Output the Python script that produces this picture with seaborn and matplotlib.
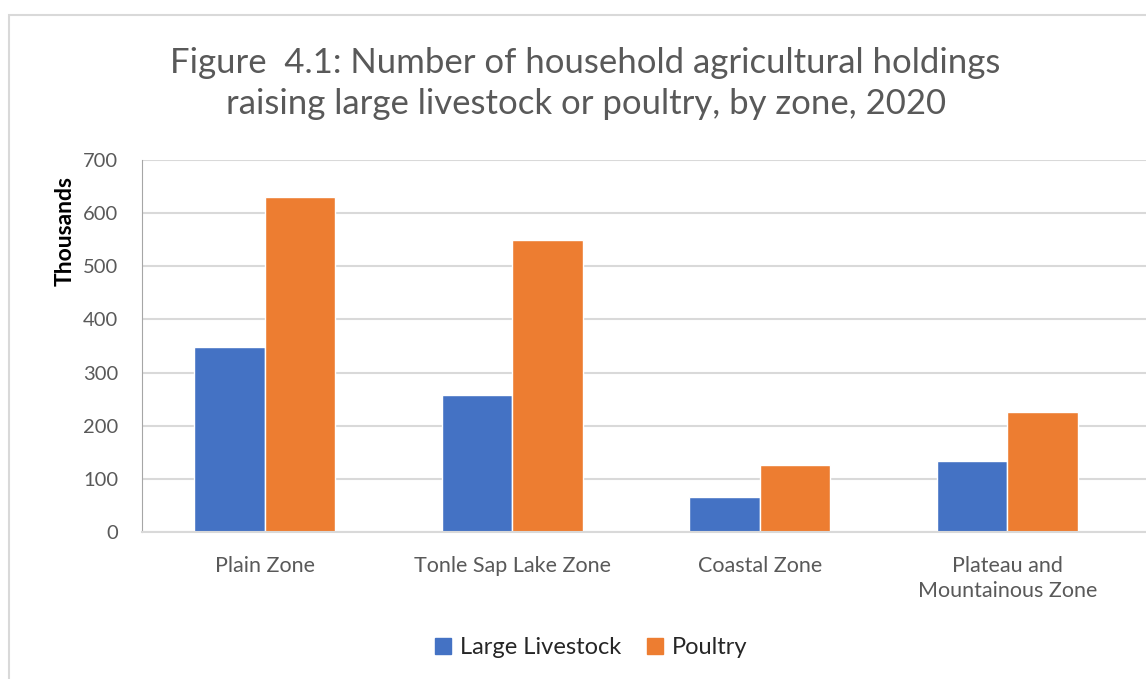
import pandas as pd
import matplotlib
matplotlib.use("Agg")
import matplotlib.pyplot as plt
import seaborn as sns
from matplotlib.patches import Rectangle
from matplotlib.lines import Line2D

# -------------------------------
# Data (thousands of holdings)
# -------------------------------
zones = ["Plain Zone", "Tonle Sap Lake Zone", "Coastal Zone", "Plateau and\nMountainous Zone"]
large_livestock = [348, 258, 65, 134]
poultry = [630, 550, 126, 226]
series = ["Large Livestock", "Poultry"]
colors = ["#4472C4", "#ED7D31"]

df = pd.DataFrame({
    "zone": zones * 2,
    "value": large_livestock + poultry,
    "series": [series[0]] * len(zones) + [series[1]] * len(zones),
})

sns.set_style("white")
plt.rcParams["font.family"] = ["Lato", "DejaVu Sans"]

fig = plt.figure(figsize=(11.46, 6.79), dpi=100)
ax = fig.add_axes([142 / 1146, 1 - 532 / 679, 1 - 142 / 1146, 372 / 679])

sns.barplot(data=df, x="zone", y="value", hue="series", palette=colors,
            width=0.57, gap=0, saturation=1, ax=ax, legend=False)

ax.set_xlim(-0.496, 3.56)
ax.set_ylim(0, 700)
ax.set_yticks(range(0, 701, 100))
ax.yaxis.grid(True, color="#D9D9D9", linewidth=1.5)
ax.set_axisbelow(True)
for s in ["top", "right"]:
    ax.spines[s].set_visible(False)
ax.spines["left"].set_color("#A6A6A6")
ax.spines["bottom"].set_color("#D9D9D9")
ax.spines["bottom"].set_linewidth(1.5)
ax.tick_params(axis="both", length=0, labelcolor="#595959")
ax.tick_params(axis="x", pad=17, labelsize=15.5)
ax.tick_params(axis="y", pad=17, labelsize=14.5)
for lbl in ax.get_xticklabels():
    lbl.set_linespacing(1.35)
ax.set_xlabel("")
ax.set_ylabel("Thousands", fontsize=16.5, fontweight="bold", color="black")
ax.yaxis.set_label_coords(-0.066, 0.81)

fig.text(0.511, 0.877, "Figure  4.1: Number of household agricultural holdings\nraising large livestock or poultry, by zone, 2020",
         ha="center", va="center", fontsize=25, color="#595959", linespacing=1.38)

handles = [Line2D([0], [0], marker="s", linestyle="", markersize=11,
                  markerfacecolor=c, markeredgecolor=c) for c in colors]
fig.legend(handles, series, loc="center", bbox_to_anchor=(0.516, 0.046), ncol=2,
           frameon=False, fontsize=17, handlelength=0.7, handletextpad=0.35, columnspacing=1.1)

# outer chart border
fig.patches.append(Rectangle((9 / 1146, -0.1), 1.2, 1 - 15 / 679 + 0.1, transform=fig.transFigure,
                             fill=False, edgecolor="#D9D9D9", linewidth=1.5))

fig.savefig("out.png", dpi=100)
